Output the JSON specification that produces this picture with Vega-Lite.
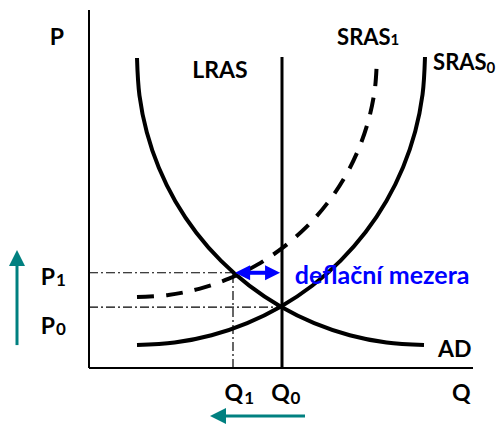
{
  "$schema": "https://vega.github.io/schema/vega-lite/v6.json",
  "width": 384,
  "height": 358,
  "autosize": "none",
  "padding": {"left": 89, "top": 10, "right": 27, "bottom": 57},
  "background": "white",
  "config": {"view": {"stroke": null}, "axis": {"disable": true}},
  "datasets": {
    "ad": [
      {"q": 12.5, "p": 86.59}, {"q": 13.14, "p": 76.13}, {"q": 15.05, "p": 65.84}, {"q": 18.19, "p": 55.91},
      {"q": 22.51, "p": 46.51}, {"q": 27.95, "p": 37.79}, {"q": 34.39, "p": 29.91}, {"q": 41.74, "p": 22.99},
      {"q": 49.87, "p": 17.16}, {"q": 58.64, "p": 12.53}, {"q": 67.9, "p": 9.16}, {"q": 77.48, "p": 7.11},
      {"q": 87.24, "p": 6.42}
    ],
    "sras0": [
      {"q": 12.5, "p": 6.42}, {"q": 22.29, "p": 7.11}, {"q": 31.91, "p": 9.16}, {"q": 41.2, "p": 12.55},
      {"q": 50.0, "p": 17.2}, {"q": 58.2, "p": 23.05}, {"q": 65.53, "p": 29.99}, {"q": 72.0, "p": 37.9},
      {"q": 77.45, "p": 46.65}, {"q": 81.79, "p": 56.09}, {"q": 84.95, "p": 66.05}, {"q": 86.86, "p": 76.37},
      {"q": 87.5, "p": 86.87}
    ],
    "sras1": [
      {"q": 12.5, "p": 19.83}, {"q": 20.66, "p": 20.41}, {"q": 28.68, "p": 22.12}, {"q": 36.42, "p": 24.94},
      {"q": 43.75, "p": 28.81}, {"q": 50.55, "p": 33.69}, {"q": 56.7, "p": 39.47}, {"q": 62.08, "p": 46.06},
      {"q": 66.63, "p": 53.35}, {"q": 70.24, "p": 61.22}, {"q": 72.87, "p": 69.52}, {"q": 74.47, "p": 78.12},
      {"q": 75.0, "p": 86.87}
    ],
    "guides": [
      {"q": 0, "p": 26.6, "q2": 37.5, "p2": 26.6},
      {"q": 0, "p": 17.0, "q2": 50.26, "p2": 17.0},
      {"q": 37.5, "p": 0, "q2": 37.5, "p2": 26.6}
    ],
    "lras": [{"q": 50.26, "p": 0, "q2": 50.26, "p2": 86.87}],
    "axes": [
      {"q": 0, "p": 0, "q2": 0, "p2": 100},
      {"q": 0, "p": 0, "q2": 100, "p2": 0}
    ],
    "labelsLeft": [
      {"t": "P", "q": -10.2, "p": 90.2},
      {"t": "AD", "q": 90.9, "p": 3.1},
      {"t": "Q", "q": 94.5, "p": -9.2}
    ],
    "labelsSras": [
      {"t": "SRAS", "q": 64.6, "p": 90.2},
      {"t": "SRAS", "q": 89.6, "p": 83.2}
    ],
    "labelsCenter": [
      {"t": "LRAS", "q": 34.1, "p": 81.0}
    ],
    "labelsRight": [
      {"t": "Q", "q": 52.3, "p": -9.2},
      {"t": "Q", "q": 40.1, "p": -9.2},
      {"t": "P", "q": -8.85, "p": 23.2},
      {"t": "P", "q": -8.85, "p": 9.5}
    ],
    "subsSmall": [
      {"t": "1", "q": 78.5, "p": 90.2},
      {"t": "0", "q": 103.5, "p": 82.4}
    ],
    "subs": [
      {"t": "0", "q": 52.5, "p": -10.0},
      {"t": "1", "q": 40.4, "p": -10.0},
      {"t": "1", "q": -8.6, "p": 22.8},
      {"t": "0", "q": -8.6, "p": 9.2}
    ],
    "gap": [{"t": "deflační mezera", "q": 53.6, "p": 23.5}],
    "tealShaft": [
      {"q": -18.75, "p": 6.4, "q2": -18.75, "p2": 30.0},
      {"q": 56.25, "p": -13.4, "q2": 34.0, "p2": -13.4}
    ],
    "tealUp": [{"q": -18.75, "p": 30.7}],
    "tealLeft": [{"q": 33.6, "p": -13.4}],
    "blueShaft": [{"q": 39.8, "p": 26.6, "q2": 47.9, "p2": 26.6}],
    "blueLeft": [{"q": 40.0, "p": 26.6}],
    "blueRight": [{"q": 47.8, "p": 26.6}]
  },
  "encoding": {
    "x": {"field": "q", "type": "quantitative", "scale": {"domain": [0, 100], "nice": false, "zero": false}},
    "y": {"field": "p", "type": "quantitative", "scale": {"domain": [0, 100], "nice": false, "zero": false}}
  },
  "layer": [
    {
      "data": {"name": "guides"},
      "mark": {"type": "rule", "color": "black", "strokeWidth": 1.2, "strokeDash": [9, 3, 2, 3]},
      "encoding": {"x2": {"field": "q2"}, "y2": {"field": "p2"}}
    },
    {
      "data": {"name": "ad"},
      "mark": {"type": "line", "color": "black", "strokeWidth": 4, "interpolate": "catmull-rom"},
      "encoding": {}
    },
    {
      "data": {"name": "sras0"},
      "mark": {"type": "line", "color": "black", "strokeWidth": 4, "interpolate": "catmull-rom"},
      "encoding": {}
    },
    {
      "data": {"name": "sras1"},
      "mark": {"type": "line", "color": "black", "strokeWidth": 4, "interpolate": "catmull-rom", "strokeDash": [17, 12]},
      "encoding": {}
    },
    {
      "data": {"name": "lras"},
      "mark": {"type": "rule", "color": "black", "strokeWidth": 3},
      "encoding": {"x2": {"field": "q2"}, "y2": {"field": "p2"}}
    },
    {
      "data": {"name": "axes"},
      "mark": {"type": "rule", "color": "black", "strokeWidth": 2},
      "encoding": {"x2": {"field": "q2"}, "y2": {"field": "p2"}}
    },
    {
      "data": {"name": "tealShaft"},
      "mark": {"type": "rule", "color": "#008080", "strokeWidth": 3},
      "encoding": {"x2": {"field": "q2"}, "y2": {"field": "p2"}}
    },
    {
      "data": {"name": "tealUp"},
      "mark": {"type": "point", "shape": "M0,-1L1,1L-1,1Z", "filled": true, "color": "#008080", "opacity": 1, "size": 256},
      "encoding": {}
    },
    {
      "data": {"name": "tealLeft"},
      "mark": {"type": "point", "shape": "M-1,0L1,-1L1,1Z", "filled": true, "color": "#008080", "opacity": 1, "size": 256},
      "encoding": {}
    },
    {
      "data": {"name": "blueShaft"},
      "mark": {"type": "rule", "color": "#0000FF", "strokeWidth": 4},
      "encoding": {"x2": {"field": "q2"}, "y2": {"field": "p2"}}
    },
    {
      "data": {"name": "blueLeft"},
      "mark": {"type": "point", "shape": "M-1,0L1,-1L1,1Z", "filled": true, "color": "#0000FF", "opacity": 1, "size": 225},
      "encoding": {}
    },
    {
      "data": {"name": "blueRight"},
      "mark": {"type": "point", "shape": "M1,0L-1,-1L-1,1Z", "filled": true, "color": "#0000FF", "opacity": 1, "size": 225},
      "encoding": {}
    },
    {
      "data": {"name": "labelsLeft"},
      "mark": {"type": "text", "font": "Lato", "fontWeight": "bold", "fontSize": 23, "align": "left", "baseline": "alphabetic", "color": "black"},
      "encoding": {"text": {"field": "t"}}
    },
    {
      "data": {"name": "labelsSras"},
      "mark": {"type": "text", "font": "Lato", "fontWeight": "bold", "fontSize": 22, "align": "left", "baseline": "alphabetic", "color": "black"},
      "encoding": {"text": {"field": "t"}}
    },
    {
      "data": {"name": "labelsCenter"},
      "mark": {"type": "text", "font": "Lato", "fontWeight": "bold", "fontSize": 23, "align": "center", "baseline": "alphabetic", "color": "black"},
      "encoding": {"text": {"field": "t"}}
    },
    {
      "data": {"name": "labelsRight"},
      "mark": {"type": "text", "font": "Lato", "fontWeight": "bold", "fontSize": 23, "align": "right", "baseline": "alphabetic", "color": "black"},
      "encoding": {"text": {"field": "t"}}
    },
    {
      "data": {"name": "subsSmall"},
      "mark": {"type": "text", "font": "Lato", "fontWeight": "bold", "fontSize": 15, "align": "left", "baseline": "alphabetic", "color": "black"},
      "encoding": {"text": {"field": "t"}}
    },
    {
      "data": {"name": "subs"},
      "mark": {"type": "text", "font": "Lato", "fontWeight": "bold", "fontSize": 17, "align": "left", "baseline": "alphabetic", "color": "black"},
      "encoding": {"text": {"field": "t"}}
    },
    {
      "data": {"name": "gap"},
      "mark": {"type": "text", "font": "Lato", "fontWeight": "bold", "fontSize": 25, "align": "left", "baseline": "alphabetic", "color": "#0000FF"},
      "encoding": {"text": {"field": "t"}}
    }
  ]
}
